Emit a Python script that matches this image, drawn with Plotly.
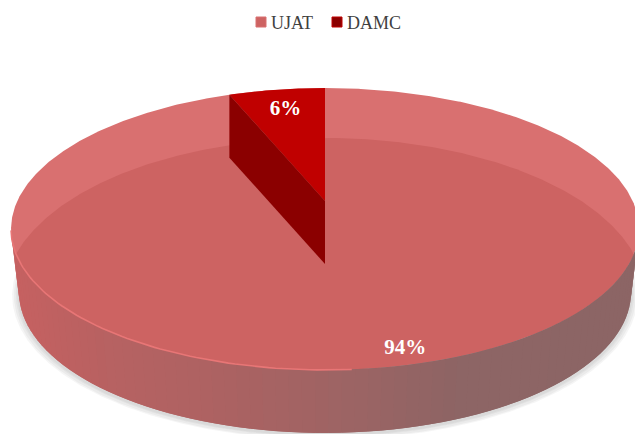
import numpy as np
import plotly.graph_objects as go

# Data
categories = ["UJAT", "DAMC"]
values = [94, 6]

W, H = 635, 434
FONT = "Liberation Serif"
LIGHT, FACE, RIM = "#D97070", "#CD6362", "#E87676"
WEDGE, WEDGE_WALL = "#C00000", "#8B0000"

# Projection of the disc (true perspective of a tilted circle)
CX, CY, AX, AY, K, DEPTH, BOTTOM_SCALE = 325, 201, 307.7, 135.4, 0.1986, 63, 0.975
# Darker inner ellipse of the top face, and the rim ellipse in screen terms
IN_RX, IN_RY, IN_CY = 320, 157, 295
RIM_RX, RIM_RY, RIM_CY = 313.9, 141, 229


def top(t, r=1.0):
    t = np.radians(t)
    w = 1 + K * r * np.cos(t)
    return CX + AX * r * np.sin(t) / w, CY - AY * r * np.cos(t) / w


def bottom(t, grow=1.0):
    t = np.radians(t)
    w = 1 + K * np.cos(t)
    return (CX + grow * BOTTOM_SCALE * AX * np.sin(t) / w,
            CY + DEPTH - grow * AY * np.cos(t) / w)


def mix(x):
    stops_x = [0, 100, 200, 320, 450, 640]
    stops = np.array([[200, 97, 97], [184, 98, 98], [174, 98, 98],
                      [160, 100, 100], [142, 101, 101], [140, 101, 101]])
    return "rgb(%d,%d,%d)" % tuple(np.interp(x, stops_x, stops[:, i]) for i in range(3))


def poly(fig, xs, ys, color):
    fig.add_trace(go.Scatter(x=xs, y=ys, mode="lines", fill="toself", fillcolor=color,
                             line=dict(width=0), showlegend=False, hoverinfo="skip"))


fig = go.Figure()

# Soft ground shadow
theta = np.linspace(0, 360, 721)
for grow, dy in [(1.022, 3), (1.016, 3), (1.010, 2), (1.005, 2)]:
    sx, sy = bottom(theta, grow)
    fig.add_trace(go.Scatter(x=sx, y=sy + dy, mode="lines", fill="toself",
                             fillcolor="rgba(120,120,120,0.075)", line=dict(width=0),
                             showlegend=False, hoverinfo="skip"))

# Top face
fx, fy = top(theta)
poly(fig, fx, fy, LIGHT)

# Darker inner area of the top face: the inner ellipse clipped to the rim
phi = np.radians(np.linspace(-180, 180, 721))
ix = CX + IN_RX * np.sin(phi)
iy = IN_CY - IN_RY * np.cos(phi)
in_rim = ((ix - CX) / RIM_RX) ** 2 + ((iy - RIM_CY) / RIM_RY) ** 2 <= 1
in_inner = ((fx - CX) / IN_RX) ** 2 + ((fy - IN_CY) / IN_RY) ** 2 <= 1
poly(fig, list(ix[in_rim]) + list(fx[in_inner]), list(iy[in_rim]) + list(fy[in_inner]), FACE)

# Outer wall drawn as thin shaded strips, each overlapping the next one
edges = np.arange(101.5, 256.5, 2.0)
for a in edges:
    span = np.linspace(a, min(a + 4.0, 258.5), 5)
    x1, y1 = top(span)
    x2, y2 = bottom(span[::-1])
    poly(fig, list(x1) + list(x2), list(y1) + list(y2), mix(float(np.mean(x1))))

# Small slice, measured counter-clockwise from the top
slice_end = -360 * values[1] / sum(values)
arc = np.linspace(slice_end, 0, 30)
ax_, ay_ = top(arc)
cx0, cy0 = top(0.0, 0.0)
poly(fig, [cx0] + list(ax_), [cy0] + list(ay_), WEDGE)

ex, ey = top(slice_end)
poly(fig, [ex, cx0, cx0, ex], [ey, cy0, cy0 + DEPTH, ey + DEPTH], WEDGE_WALL)

# Rim highlight on the front left
rt = np.linspace(176, 258, 80)
rx, ry = top(rt)
fig.add_trace(go.Scatter(x=rx, y=ry, mode="lines", line=dict(color=RIM, width=1.6),
                         showlegend=False, hoverinfo="skip"))

# Percentage labels
lx, ly = top(np.array([166.5, slice_end / 2]), np.array([0.92, 0.79]))
fig.add_trace(go.Scatter(x=lx, y=ly, mode="text",
                         text=[f"{v}%" for v in values],
                         textfont=dict(family=FONT, size=21, color="white", weight="bold"),
                         showlegend=False, hoverinfo="skip"))

# Legend entries
legend_x = [261, 337]
legend_y = 22
for name, swatch, edge, px in zip(categories, [FACE, WEDGE_WALL], [LIGHT, WEDGE], legend_x):
    fig.add_trace(go.Scatter(x=[px], y=[legend_y], mode="markers",
                             marker=dict(symbol="square", size=10, color=swatch,
                                         line=dict(color=edge, width=1)),
                             showlegend=False, hoverinfo="skip"))
    fig.add_trace(go.Scatter(x=[px + 10], y=[legend_y + 2], mode="text", text=[name],
                             textposition="middle right",
                             textfont=dict(family=FONT, size=18, color="#404040"),
                             showlegend=False, hoverinfo="skip"))

fig.update_layout(
    width=W, height=H, margin=dict(l=0, r=0, t=0, b=0), autosize=False,
    paper_bgcolor="white", plot_bgcolor="white", showlegend=False,
    xaxis=dict(range=[0, W], visible=False, fixedrange=True),
    yaxis=dict(range=[H, 0], visible=False, fixedrange=True),
)

fig.write_html("out.html", post_script="document.body.style.margin='0';",
               config={"displayModeBar": False})
